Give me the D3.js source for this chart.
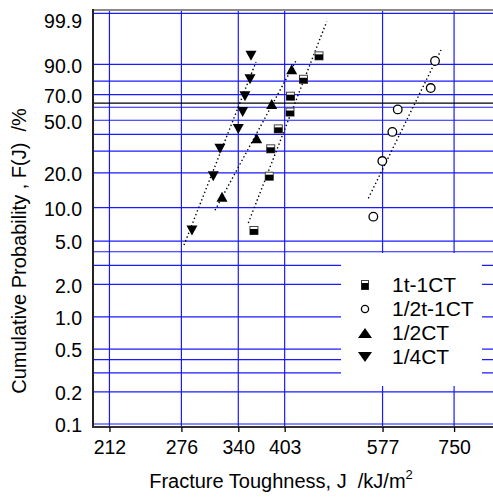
<!DOCTYPE html>
<html>
<head>
<meta charset="utf-8">
<script src="https://cdn.jsdelivr.net/npm/d3@7"></script>
<style>
  body { margin: 0; background: #fff; }
  text { font-family: "Liberation Sans", Arial, sans-serif; fill: #000; }
</style>
</head>
<body>
<svg id="chart" width="493" height="497"></svg>
<script>
// data (J in kJ/m2, F in %)
var j1t1CT = [360.1, 380.9, 382.9, 393.7, 411.0, 411.7, 431.8, 457.1];
var f1t1CT = [6.25, 18.75, 31.25, 43.75, 56.25, 68.75, 81.25, 93.75];
var jHalfT1CT = [557.8, 576.5, 598.1, 610.0, 688.4, 699.4];
var fHalfT1CT = [8.33, 25, 41.67, 58.33, 75, 91.67];
var jHalfCT = [320.3, 363.7, 384.3, 413.5];
var fHalfCT = [12.5, 37.5, 62.5, 87.5];
var jQuarterCT = [286.9, 310.2, 317.9, 340.0, 345.5, 348.4, 354.9, 356.2];
var fQuarterCT = [6.25, 18.75, 31.25, 43.75, 56.25, 68.75, 81.25, 93.75];

// fitted lines, two end points each
var fit1t1CT = { j: [352.7, 470.2], f: [7.3, 99.7] };
var fitHalfT1CT = { j: [547.7, 715.0], f: [12.1, 95.7] };
var fitHalfCT = { j: [312.2, 421.6], f: [9.5, 92.5] };
var fitQuarterCT = { j: [278.6, 362.8], f: [4.6, 91.2] };

var seriesNames = ["1t-1CT", "1/2t-1CT", "1/2CT", "1/4CT"];

var xTicks = [212, 276, 340, 403, 577, 750];
var yGrid = [99.9, 90, 80, 70, 60, 50, 40, 30, 20, 10, 5, 4, 3, 2, 1, 0.5, 0.4, 0.3, 0.2, 0.1];
var yTickValues = [99.9, 90, 70, 50, 20, 10, 5, 2, 1, 0.5, 0.2, 0.1];
var yTickLabels = ["99.9", "90.0", "70.0", "50.0", "20.0", "10.0", "5.0", "2.0", "1.0", "0.5", "0.2", "0.1"];

var svg = d3.select("#chart");
var plotL = 93, plotR = 493, plotT = 10, plotB = 427;

// weibull probability scale
function weib(f) { return Math.log(-Math.log(1 - f / 100)); }

var x = d3.scaleLog().domain([199.6, 865]).range([plotL, plotR]);
var yW = d3.scaleLinear().domain([-6.972, 2.007]).range([plotB, plotT]);
function y(f) { return yW(weib(f)); }

var blue = "#1a1aff";

// Grid
svg.append("g").selectAll("line")
    .data(yGrid)
    .enter().append("line")
    .attr("x1", plotL).attr("x2", plotR)
    .attr("y1", function(d) { return y(d); })
    .attr("y2", function(d) { return y(d); })
    .style("stroke", blue)
    .style("stroke-width", 1.2);

svg.append("g").selectAll("line")
    .data(xTicks)
    .enter().append("line")
    .attr("x1", function(d) { return x(d); })
    .attr("x2", function(d) { return x(d); })
    .attr("y1", plotT).attr("y2", plotB)
    .style("stroke", blue)
    .style("stroke-width", 1.2);

// F = 63.2% line
svg.append("line")
    .attr("x1", plotL).attr("x2", plotR)
    .attr("y1", yW(0)).attr("y2", yW(0))
    .style("stroke", "#000")
    .style("stroke-width", 1.2);

// Legend box covers the grid
svg.append("rect")
    .attr("x", 341).attr("y", 253)
    .attr("width", 141).attr("height", 133)
    .style("fill", "#fff");

// Frame
svg.append("line")
    .attr("x1", plotL).attr("x2", plotR)
    .attr("y1", plotT).attr("y2", plotT)
    .style("stroke", "#8a8a8a").style("stroke-width", 2);
svg.append("line")
    .attr("x1", plotL).attr("x2", plotL)
    .attr("y1", plotT - 1).attr("y2", plotB + 1)
    .style("stroke", "#222").style("stroke-width", 2);
svg.append("line")
    .attr("x1", plotL - 1).attr("x2", plotR)
    .attr("y1", plotB).attr("y2", plotB)
    .style("stroke", "#333").style("stroke-width", 2.2);

// Axes ticks and labels
var xAxis = d3.axisBottom(x)
    .tickValues(xTicks)
    .tickFormat(d3.format("d"))
    .tickSizeInner(5)
    .tickSizeOuter(0)
    .tickPadding(8);
var gx = svg.append("g")
    .attr("transform", "translate(0," + plotB + ")")
    .call(xAxis);
gx.select(".domain").remove();
gx.selectAll("line").style("stroke", "#000").style("stroke-width", 1.3);
gx.selectAll("text").style("font-size", "19.5px");

svg.append("g").selectAll("text")
    .data(yTickValues)
    .enter().append("text")
    .attr("x", 82)
    .attr("y", function(d) { return y(d) + (d === 99.9 ? 8 : 1.5); })
    .attr("dy", "0.35em")
    .attr("text-anchor", "end")
    .style("font-size", "19.5px")
    .text(function(d, i) { return yTickLabels[i]; });

// Axis titles
var xTitle = svg.append("text")
    .attr("x", 281).attr("y", 488)
    .attr("text-anchor", "middle")
    .style("font-size", "20px")
    .attr("xml:space", "preserve");
xTitle.append("tspan").text("Fracture Toughness, J  /kJ/m");
xTitle.append("tspan").attr("dy", -9).style("font-size", "13px").text("2");

svg.append("text")
    .attr("transform", "translate(26,251) rotate(-90)")
    .attr("text-anchor", "middle")
    .attr("xml:space", "preserve")
    .style("font-size", "20px")
    .text("Cumulative Probability , F(J)  /%");

// Fit lines
var fits = [fit1t1CT, fitHalfT1CT, fitHalfCT, fitQuarterCT];
svg.append("g").selectAll("line")
    .data(fits)
    .enter().append("line")
    .attr("x1", function(d) { return x(d.j[0]); })
    .attr("y1", function(d) { return y(d.f[0]); })
    .attr("x2", function(d) { return x(d.j[1]); })
    .attr("y2", function(d) { return y(d.f[1]); })
    .style("stroke", "#000")
    .style("stroke-width", 1.4)
    .style("stroke-dasharray", "1.4,2.6");

// Markers
function triPath(cx, cy, w, h, up) {
    var s = up ? 1 : -1;
    return "M" + (cx - w / 2) + "," + (cy + s * h / 2) +
        "L" + (cx + w / 2) + "," + (cy + s * h / 2) +
        "L" + cx + "," + (cy - s * h / 2) + "Z";
}

function drawSquare(g, cx, cy, w, h) {
    g.append("rect")
        .attr("x", cx - w / 2).attr("y", cy - h / 2)
        .attr("width", w).attr("height", h)
        .style("fill", "#fff").style("stroke", "#444").style("stroke-width", 1);
    g.append("rect")
        .attr("x", cx - w / 2).attr("y", cy - h / 2 + 2.5)
        .attr("width", w).attr("height", h - 2.5)
        .style("fill", "#000");
}

function drawMarker(g, kind, cx, cy, big) {
    if (kind === 0) {
        drawSquare(g, cx, cy, big ? 8 : 7, big ? 8 : 9);
    } else if (kind === 1) {
        g.append("circle")
            .attr("cx", cx).attr("cy", cy)
            .attr("r", big ? 4.3 : 3.6)
            .style("fill", "#fff").style("stroke", "#000").style("stroke-width", 1.3);
    } else {
        g.append("path")
            .attr("d", triPath(cx, cy, big ? 11 : 14, big ? 10 : 10, kind === 2))
            .style("fill", "#000");
    }
}

var pts = [
    { j: j1t1CT, f: f1t1CT },
    { j: jHalfT1CT, f: fHalfT1CT },
    { j: jHalfCT, f: fHalfCT },
    { j: jQuarterCT, f: fQuarterCT }
];

var gm = svg.append("g");
pts.forEach(function(s, k) {
    s.j.forEach(function(jv, i) {
        drawMarker(gm, k, x(jv), y(s.f[i]), true);
    });
});

// Legend
var gl = svg.append("g");
seriesNames.forEach(function(name, i) {
    var ly = 285 + i * 24;
    drawMarker(gl, i, 365, ly, false);
    gl.append("text")
        .attr("x", 392).attr("y", ly)
        .attr("dy", "0.35em")
        .style("font-size", "21px")
        .text(name);
});
</script>
</body>
</html>
